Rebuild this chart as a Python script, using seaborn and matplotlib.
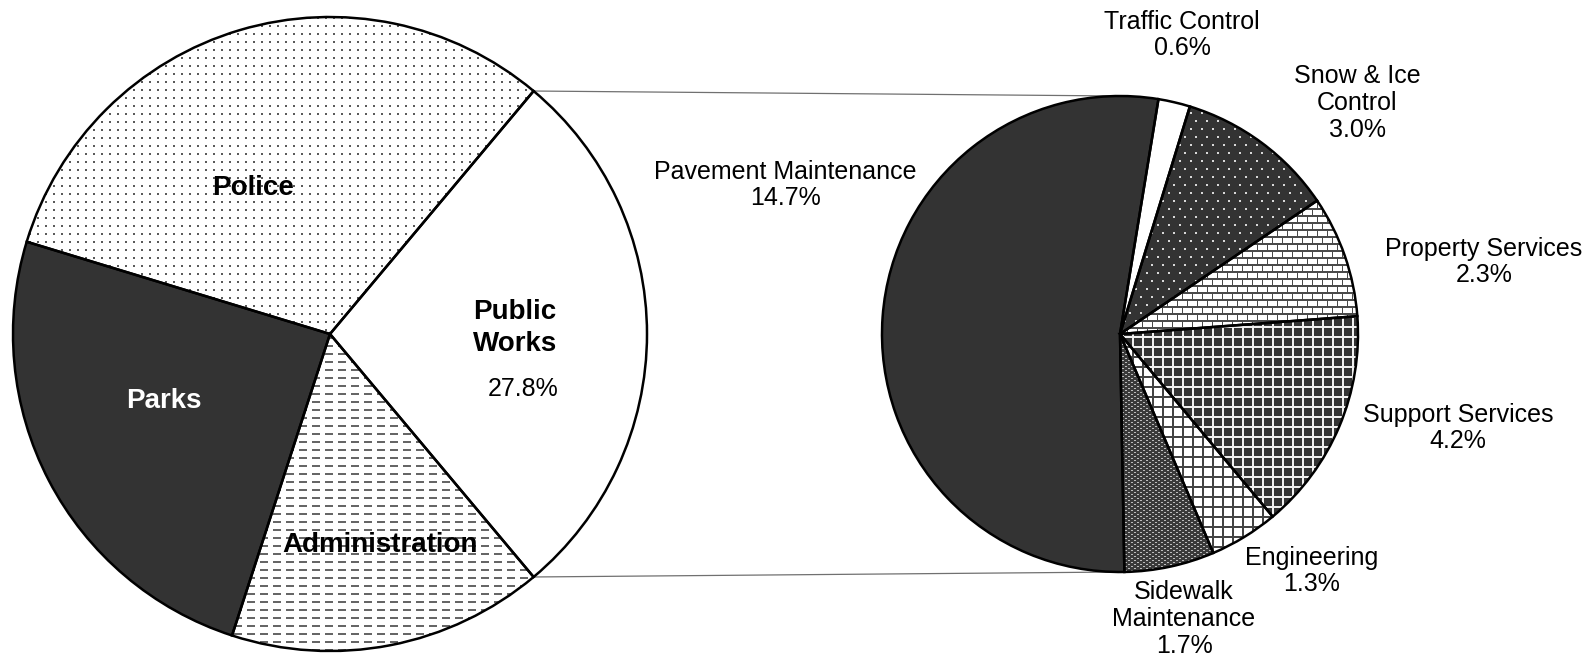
import numpy as np
import matplotlib
matplotlib.use("Agg")
import matplotlib.pyplot as plt
from matplotlib.patches import ConnectionPatch
import seaborn as sns

sns.set_theme(style="white")
plt.rcParams["font.family"] = ["Liberation Sans", "DejaVu Sans"]
plt.rcParams["text.color"] = "black"

# Share of the total budget by department (%)
dept_names = ["Public Works", "Police", "Parks", "Administration"]
dept_shares = [27.8, 31.4, 24.7, 16.1]

# Public Works programs (% of the total budget)
pw_names = ["Traffic Control", "Snow & Ice\nControl", "Property Services",
            "Support Services", "Engineering", "Sidewalk\nMaintenance",
            "Pavement Maintenance"]
pw_shares = [0.6, 3.0, 2.3, 4.2, 1.3, 1.7, 14.7]

W, H = 1596, 665
DARK = "#333333"


def rgb(h):
    h = h.lstrip("#")
    return np.array([int(h[i:i + 2], 16) / 255 for i in (0, 2, 4)])


def tile(pattern, n):
    ph, pw = pattern.shape[:2]
    t = np.tile(pattern, (n // ph + 1, n // pw + 1, 1))
    return t[:n, :n]


def dots(bg, fg, px, py, dot=2, stagger=False):
    p = np.ones((py * (2 if stagger else 1), px, 3)) * rgb(bg)
    p[0:dot, 0:dot] = rgb(fg)
    if stagger:
        p[py:py + dot, px // 2:px // 2 + dot] = rgb(fg)
    return p


def dashes(bg, fg, period_x, period_y, length, thick=2):
    p = np.ones((period_y, period_x, 3)) * rgb(bg)
    p[0:thick, 0:length] = rgb(fg)
    return p


def grid(bg, fg, period, thick=1):
    p = np.ones((period, period, 3)) * rgb(bg)
    p[0:thick, :] = rgb(fg)
    p[:, 0:thick] = rgb(fg)
    return p


def bricks(bg, fg, bw, bh):
    p = np.ones((2 * bh, bw, 3)) * rgb(bg)
    p[0:2, :] = rgb(fg)
    p[bh:bh + 2, :] = rgb(fg)
    p[0:bh, 0] = rgb(fg)
    p[bh:2 * bh, bw // 2] = rgb(fg)
    return p


def checker(bg, fg):
    p = np.ones((4, 6, 3)) * rgb(bg)
    p[0, 0:2] = rgb(fg)
    p[2, 3:5] = rgb(fg)
    return p


fig = plt.figure(figsize=(W / 100, H / 100), dpi=100)


def box(cx, cy, r):
    return [(cx - r) / W, (H - cy - r) / H, 2 * r / W, 2 * r / H]


def draw_pie(ax, values, start, ccw, faces, textures, npx):
    fills, _ = ax.pie(values, startangle=start, counterclock=ccw, colors=faces,
                      wedgeprops=dict(linewidth=0, zorder=1))
    for w, tex in zip(fills, textures):
        if tex is None:
            continue
        img = ax.imshow(tile(tex, npx), extent=(-1, 1, -1, 1),
                        interpolation="nearest", zorder=2)
        img.set_clip_path(w)
    ax.pie(values, startangle=start, counterclock=ccw,
           wedgeprops=dict(fill=False, edgecolor="black", linewidth=1.8,
                           zorder=3, clip_on=False))
    ax.set_xlim(-1, 1)
    ax.set_ylim(-1, 1)
    ax.set_aspect("equal")
    ax.axis("off")
    return fills


# Department pie
LC, LR = (330, 334), 317
axL = fig.add_axes(box(*LC, LR))
left_tex = [None,
            dots("#ffffff", "#5a5a5a", 8, 8),
            None,
            dashes("#ffffff", "#666666", 13, 8, 8)]
left_faces = ["white", "white", DARK, "white"]
wl = draw_pie(axL, dept_shares, -dept_shares[0] / 100 * 180, True,
              left_faces, left_tex, 2 * LR)

# Public Works pie
RC, RR = (1120, 334), 238
axR = fig.add_axes(box(*RC, RR))
right_tex = [None,
             dots(DARK, "#d8d8d8", 11, 8, stagger=True),
             bricks("#ffffff", "#4a4a4a", 10, 7),
             grid(DARK, "#f0f0f0", 10, 2),
             grid("#ffffff", "#444444", 10, 2),
             checker("#3a3a3a", "#bbbbbb"),
             None]
right_faces = ["white", DARK, "white", DARK, "white", DARK, DARK]
wr = draw_pie(axR, pw_shares, 80.7, False, right_faces, right_tex, 2 * RR)

# Connector lines between the Public Works slice and the breakdown pie
pw_wedge = wl[0]
for ang, yb in [(pw_wedge.theta2, 1), (pw_wedge.theta1, -1)]:
    t = np.deg2rad(ang)
    con = ConnectionPatch(xyA=(np.cos(t), np.sin(t)), coordsA=axL.transData,
                          xyB=(0, yb), coordsB=axR.transData,
                          color="#707070", lw=0.9, zorder=0)
    fig.add_artist(con)


def px(x, y):
    return x / W, 1 - y / H


# Department labels
bold = dict(fontsize=20, fontweight="bold", ha="center", va="center")
fig.text(*px(253, 188), dept_names[1], color="black", **bold)
fig.text(*px(164, 401), dept_names[2], color="white", **bold)
fig.text(*px(380, 545), dept_names[3], color="black", **bold)
fig.text(*px(515, 328), "Public\nWorks", color="black", linespacing=1.32, **bold)
fig.text(*px(523, 389), f"{dept_shares[0]:.1f}%", fontsize=18,
         ha="center", va="center")

# Program labels
label_pos = [(1182, 35), (1357, 103), (1484, 262), (1458, 428),
             (1312, 571), (1184, 619), (785, 185)]
for name, share, (x, y) in zip(pw_names, pw_shares, label_pos):
    fig.text(*px(x, y), f"{name}\n{share:.1f}%", fontsize=18,
             ha="center", va="center", linespacing=1.15)

fig.savefig("out.png", dpi=100, facecolor="white")
